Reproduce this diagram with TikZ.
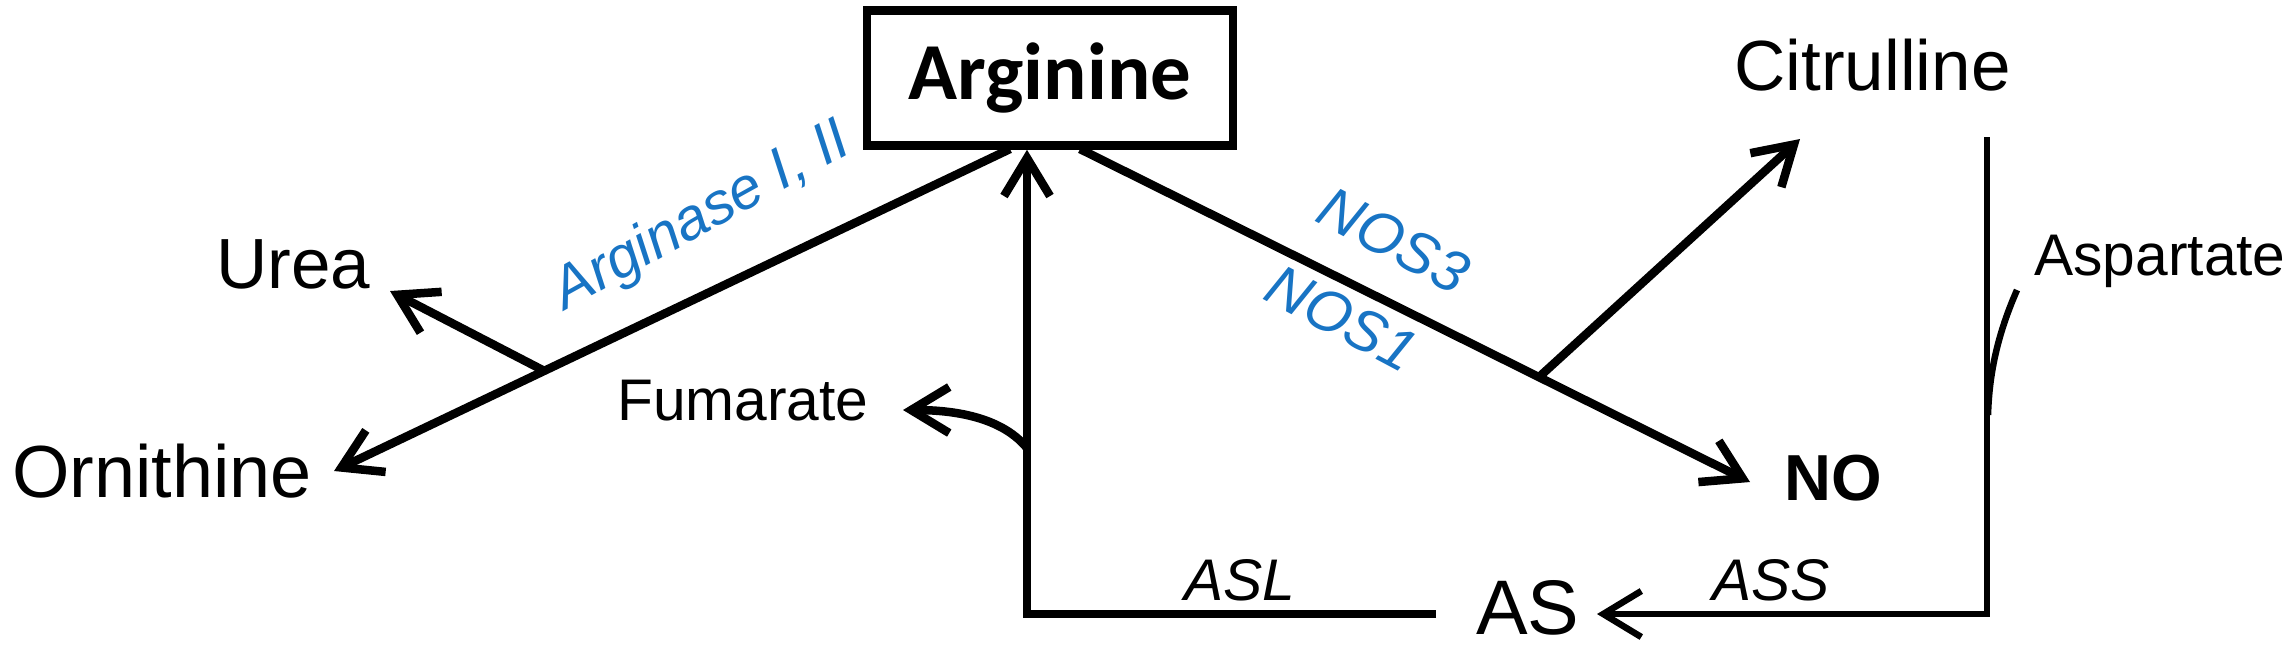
\documentclass[tikz,border=0pt]{standalone}
\usepackage{fontspec}
\setmainfont{Liberation Sans}
\newfontfamily\argfont{Carlito}
\usetikzlibrary{arrows.meta,calc}
\definecolor{enzblue}{RGB}{24,116,196}
\begin{document}
\begin{tikzpicture}
[
    x=0.01cm, y=-0.01cm,
    line width=0.085cm,
    arr/.style={-{Straight Barb[length=3.8mm,width=4.6mm]}},
    big/.style={font=\fontsize{20.2}{24}\selectfont, inner sep=0pt},
    small/.style={font=\fontsize{16.7}{20}\selectfont, inner sep=0pt},
    ital/.style={font=\fontsize{16.7}{20}\selectfont\itshape, inner sep=0pt},
    enz/.style={font=\fontsize{16.7}{20}\selectfont\itshape, inner sep=0pt, text=enzblue},
    argbox/.style={draw, minimum width=3.66cm, minimum height=1.35cm, inner sep=0pt,
        font=\argfont\bfseries\fontsize{23}{27}\selectfont},
]
\useasboundingbox (0,0) rectangle (2294,650);
\node[argbox] (arg) at (1050,78) {Arginine};
\node[big, anchor=base west] (urea) at (212,288) {Urea};
\node[big, anchor=base west, font=\fontsize{21}{25}\selectfont] (orn) at (8,497) {Ornithine};
\node[big, anchor=base west] (cit) at (1730,90) {Citrulline};
\node[big, anchor=base west, font=\fontsize{18.5}{22}\selectfont\bfseries] (no) at (1780,500) {NO};
\node[big, anchor=base west, font=\fontsize{22}{26}\selectfont] (as) at (1472,634) {AS};
\node[small, anchor=base west] (fum) at (613,420) {Fumarate};
\node[small, anchor=base west] (asp) at (2030,275) {Aspartate};
\node[enz, rotate=29, anchor=base] (arginase) at (710,231) {Arginase I, II};
\node[enz, rotate=-28] (nos3) at (1394,240) {NOS3};
\node[enz, rotate=-28] (nos1) at (1342,318) {NOS1};
\node[ital, anchor=base] (asl) at (1240,600) {ASL};
\node[ital, anchor=base west] (ass) at (1708,600) {ASS};

\coordinate (argL) at (1010,149);
\coordinate (argR) at (1080,149);
\coordinate (ornT) at (334,471);
\coordinate (ureaJ) at ($(argL)!0.689!(ornT)$);
\coordinate (ureaT) at (390,291);
\coordinate (noT) at (1750,482);
\coordinate (citJ) at ($(argR)!0.685!(noT)$);
\coordinate (citT) at (1800,139);
\coordinate (rTop) at (1987,137);
\coordinate (asT) at (1597,614);
\coordinate (aslE) at (1436,614);
\coordinate (upX) at (1027,614);
\coordinate (fumJ) at (1027,448);
\coordinate (fumT) at (903,410);
\coordinate (aspS) at (2017,290);
\coordinate (aspJ) at (1988,415);

\draw[arr] (argL) -- (ornT);
\draw[arr] (ureaJ) -- (ureaT);
\draw[arr] (argR) -- (noT);
\draw[arr] (citJ) -- (citT);
\draw[arr] (aslE) -| (arg.south -| upX);
\draw[arr] (fumJ) .. controls (1004,420) and (962,410) .. (fumT);
\draw[arr, line width=0.065cm] (rTop) |- (asT);
\draw[line width=0.065cm] (aspS) .. controls (1995,340) and (1989,380) .. (aspJ);
\end{tikzpicture}
\end{document}
